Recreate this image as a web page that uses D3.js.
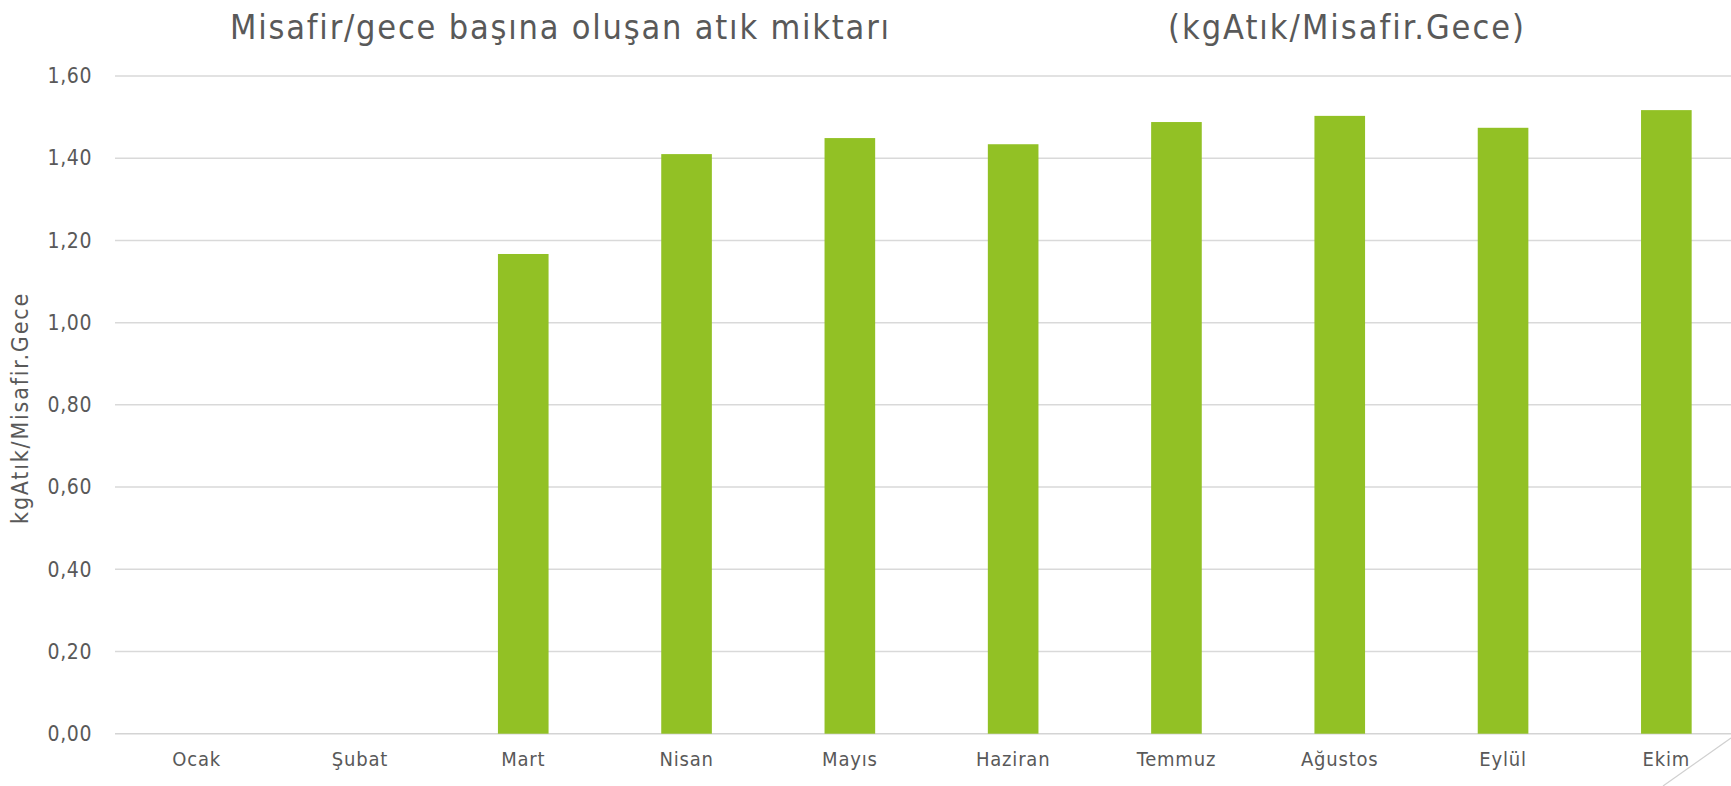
<!DOCTYPE html>
<html>
<head>
<meta charset="utf-8">
<script src="https://cdn.jsdelivr.net/npm/d3@7"></script>
<style>
  body { margin: 0; background: #fff; overflow: hidden; }
  text { font-family: "DejaVu Sans Condensed", "Liberation Sans Narrow", sans-serif; fill: #595959; }
</style>
</head>
<body>
<div id="chart"></div>
<script>
// data
const months = ["Ocak", "Şubat", "Mart", "Nisan", "Mayıs", "Haziran", "Temmuz", "Ağustos", "Eylül", "Ekim"];
const values = [0, 0, 1.167, 1.41, 1.449, 1.434, 1.488, 1.503, 1.474, 1.517];
const yTicks = [0, 0.2, 0.4, 0.6, 0.8, 1.0, 1.2, 1.4, 1.6];

const width = 1731, height = 786;
// plot runs past the right edge of the window, like the slide
const margin = { top: 76, left: 115, bottom: 52 };
const plotRight = 1748;
const font = "'DejaVu Sans Condensed', sans-serif";

const svg = d3.select("#chart").append("svg")
  .attr("width", width)
  .attr("height", height);

const x = d3.scaleBand()
  .domain(months)
  .range([margin.left, plotRight])
  .paddingInner(0.69)
  .paddingOuter(0.345);

const y = d3.scaleLinear()
  .domain([0, 1.6])
  .range([height - margin.bottom - 0.3, margin.top]);

const fmt = d => d3.format(".2f")(d).replace(".", ",");

// gridlines
svg.append("g")
  .selectAll("line")
  .data(yTicks)
  .join("line")
  .attr("x1", margin.left)
  .attr("x2", plotRight)
  .attr("y1", d => y(d))
  .attr("y2", d => y(d))
  .attr("stroke", d => d === 0 ? "#d4d4d4" : "#d9d9d9")
  .attr("stroke-width", 1.5);

// y axis labels
const yAxis = g => g
  .attr("transform", `translate(${margin.left},0)`)
  .call(d3.axisLeft(y).tickValues(yTicks).tickFormat(fmt).tickSize(0).tickPadding(23))
  .call(g => g.select(".domain").remove())
  .call(g => g.selectAll("text").attr("font-size", 21).attr("letter-spacing", 0.6)
    .style("fill", "#595959").style("font-family", font));
svg.append("g").call(yAxis);

// bars
svg.append("g")
  .selectAll("rect")
  .data(values)
  .join("rect")
  .attr("x", (d, i) => x(months[i]))
  .attr("width", x.bandwidth())
  .attr("y", d => y(d))
  .attr("height", d => y(0) - y(d))
  .attr("fill", "#92c125");

// x axis labels
const xAxis = g => g
  .attr("transform", `translate(0,${y(0)})`)
  .call(d3.axisBottom(x).tickSize(0).tickPadding(18))
  .call(g => g.select(".domain").remove())
  .call(g => g.selectAll("text").attr("font-size", 20).attr("letter-spacing", 0.8)
    .style("fill", "#595959").style("font-family", font));
svg.append("g").call(xAxis);

// y axis title
svg.append("text")
  .attr("transform", "translate(28,408) rotate(-90)")
  .attr("text-anchor", "middle")
  .attr("font-size", 23)
  .attr("letter-spacing", 1.8)
  .text("kgAtık/Misafir.Gece");

// title
svg.append("text")
  .attr("x", 230)
  .attr("y", 39)
  .attr("font-size", 34)
  .attr("letter-spacing", 1.8)
  .text("Misafir/gece başına oluşan atık miktarı");

svg.append("text")
  .attr("x", 1347)
  .attr("y", 39)
  .attr("text-anchor", "middle")
  .attr("font-size", 34)
  .attr("letter-spacing", 2)
  .text("(kgAtık/Misafir.Gece)");

// slide decoration in the bottom right corner
svg.append("line")
  .attr("x1", 1731).attr("y1", 738)
  .attr("x2", 1663).attr("y2", 786)
  .attr("stroke", "#d0d0d0")
  .attr("stroke-width", 1.2);
</script>
</body>
</html>
